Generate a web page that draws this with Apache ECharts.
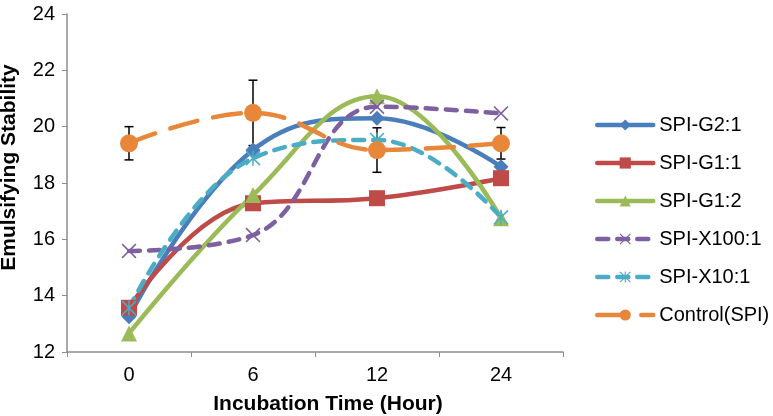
<!DOCTYPE html>
<html><head><meta charset="utf-8">
<script src="https://cdn.jsdelivr.net/npm/echarts@6/dist/echarts.min.js"></script>
<style>html,body{margin:0;padding:0;background:#fff}#c{width:773px;height:416px}</style>
</head><body><div id="c"></div>
<script>
const categories = ['0', '6', '12', '24'];
const yTicks = [12, 14, 16, 18, 20, 22, 24];
const spiG2_1 = [13.25, 19.17, 20.30, 18.58];
const spiG1_1 = [13.57, 17.28, 17.46, 18.17];
const spiG1_2 = [12.66, 17.57, 21.08, 16.75];
const spiX100_1 = [15.59, 16.15, 20.71, 20.47];
const spiX10_1 = [13.56, 18.88, 19.53, 16.78];
const controlSPI = [19.41, 20.49, 19.17, 19.41];
const controlErr = [0.59, 1.16, 0.79, 0.56];

const FONT = "'Liberation Sans', Arial, Helvetica, sans-serif";
const xSym = 'path://M1.5,0 L10,8.5 L18.5,0 L20,1.5 L11.5,10 L20,18.5 L18.5,20 L10,11.5 L1.5,20 L0,18.5 L8.5,10 L0,1.5 Z';
const starSym = 'path://M1.5,0 L10,8.5 L18.5,0 L20,1.5 L11.5,10 L20,18.5 L18.5,20 L10,11.5 L1.5,20 L0,18.5 L8.5,10 L0,1.5 Z M9,0 L11,0 L11,20 L9,20 Z';

function lineSeries(name, data, color, symbol, size, dash) {
  return {
    name: name, type: 'line', data: data, smooth: 0.42,
    symbol: symbol, symbolSize: size,
    itemStyle: { color: color },
    lineStyle: { color: color, width: 4.5, type: dash || 'solid', cap: 'round' },
    z: 3
  };
}

const chart = echarts.init(document.getElementById('c'), null, { renderer: 'canvas' });
chart.setOption({
  animation: false,
  textStyle: { fontFamily: FONT },
  grid: { left: 67, right: 210, top: 14, bottom: 64, containLabel: false, outerBoundsMode: 'none' },
  legend: {
    data: ['SPI-G2:1', 'SPI-G1:1', 'SPI-G1:2', 'SPI-X100:1', 'SPI-X10:1', 'Control(SPI)'],
    orient: 'vertical', left: 595, top: 115, padding: 0,
    itemWidth: 56, itemHeight: 14, itemGap: 18,
    lineStyle: { width: 4.5 },
    textStyle: { fontSize: 20, color: '#000', fontFamily: FONT, lineHeight: 20, padding: [0, 0, 0, 1] }
  },
  xAxis: {
    type: 'category', data: categories, boundaryGap: true,
    name: 'Incubation Time (Hour)', nameLocation: 'middle', nameGap: 42,
    nameTextStyle: { fontSize: 21, fontWeight: 'bold', color: '#000', fontFamily: FONT, padding: [0, 0, 0, 26] },
    axisLine: { lineStyle: { color: '#8c8c8c', width: 1.5 } },
    axisTick: { show: true, length: 5, lineStyle: { color: '#8c8c8c' } },
    axisLabel: { fontSize: 20, color: '#000', margin: 13, fontFamily: FONT },
    splitLine: { show: false }
  },
  yAxis: {
    type: 'value', min: yTicks[0], max: yTicks[yTicks.length - 1], interval: 2,
    name: 'Emulsifying Stability', nameLocation: 'middle', nameGap: 47,
    nameTextStyle: { fontSize: 21, fontWeight: 'bold', color: '#000', fontFamily: FONT, padding: [0, 0, 0, 31] },
    axisLine: { show: true, lineStyle: { color: '#8c8c8c', width: 1.5 } },
    axisTick: { show: true, length: 5, lineStyle: { color: '#8c8c8c' } },
    axisLabel: { fontSize: 20, color: '#000', margin: 12, fontFamily: FONT },
    splitLine: { show: false }
  },
  series: [
    lineSeries('SPI-G2:1', spiG2_1, '#4A7EBB', 'diamond', 15),
    lineSeries('SPI-G1:1', spiG1_1, '#BE4B48', 'rect', 16),
    lineSeries('SPI-G1:2', spiG1_2, '#9BBB59', 'triangle', 16),
    lineSeries('SPI-X100:1', spiX100_1, '#7D60A0', xSym, 15, [11, 9]),
    lineSeries('SPI-X10:1', spiX10_1, '#4BACC6', starSym, 15, [11, 9]),
    {
      name: 'err', type: 'custom', z: 3,
      data: controlSPI.map((v, i) => [i, v, controlErr[i]]),
      renderItem: function (params, api) {
        const x = api.value(0), v = api.value(1), e = api.value(2);
        const top = api.coord([x, v + e]);
        const bot = api.coord([x, v - e]);
        const w = 4.5;
        const st = { stroke: '#000', lineWidth: 1.5 };
        return {
          type: 'group', children: [
            { type: 'line', shape: { x1: top[0], y1: top[1], x2: bot[0], y2: bot[1] }, style: st },
            { type: 'line', shape: { x1: top[0] - w, y1: top[1], x2: top[0] + w, y2: top[1] }, style: st },
            { type: 'line', shape: { x1: bot[0] - w, y1: bot[1], x2: bot[0] + w, y2: bot[1] }, style: st }
          ]
        };
      }
    },
    lineSeries('Control(SPI)', controlSPI, '#E8873A', 'circle', 18, [28, 16])
  ]
});
</script></body></html>
